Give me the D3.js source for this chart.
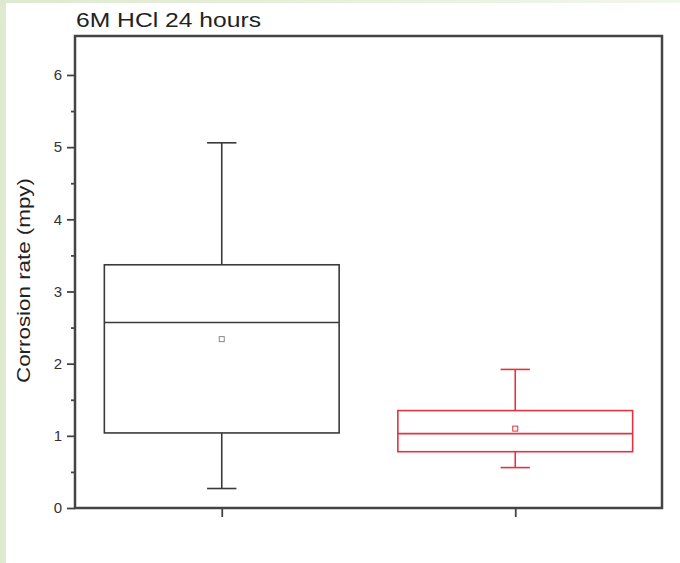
<!DOCTYPE html>
<html><head><meta charset="utf-8">
<script src="https://cdn.jsdelivr.net/npm/d3@7"></script>
<style>html,body{margin:0;padding:0;background:#fff;}svg{display:block;}</style>
</head><body>
<script>
const categories = ["A", "B"];
const whiskerLow = [0.27, 0.56];
const q1 = [1.04, 0.78];
const median = [2.57, 1.03];
const q3 = [3.37, 1.35];
const whiskerHigh = [5.06, 1.92];
const mean = [2.34, 1.10];
const colors = ["#3a3a3a", "#e0353f"];
const yTicks = [0, 1, 2, 3, 4, 5, 6];
const yMinorTicks = [0.5, 1.5, 2.5, 3.5, 4.5, 5.5];
const title = "6M HCl 24 hours";
const yLabel = "Corrosion rate (mpy)";

const W = 680, H = 563;
const m = {left: 75, right: 18, top: 36, bottom: 55};
const svg = d3.select("body").append("svg").attr("width", W).attr("height", H);

svg.append("rect").attr("x", 0).attr("y", 0).attr("width", W).attr("height", H).attr("fill", "#ffffff");
const g0 = svg.append("defs").append("linearGradient").attr("id", "topg");
g0.append("stop").attr("offset", "0%").attr("stop-color", "#dfe9cf");
g0.append("stop").attr("offset", "100%").attr("stop-color", "#f1f6ea");
svg.append("rect").attr("x", 0).attr("y", 0).attr("width", W).attr("height", 3).attr("fill", "url(#topg)");
svg.append("rect").attr("x", 0).attr("y", 0).attr("width", 6).attr("height", H).attr("fill", "#dfe9cf");

const x = d3.scalePoint().domain(categories).range([m.left, W - m.right]).padding(0.5);
const y = d3.scaleLinear().domain([0, 6.54]).range([H - m.bottom, m.top]);
const boxW = x.step() * 0.8;
const capHalf = boxW * 0.0625;

const yAxis = svg.append("g").attr("transform", `translate(${m.left},0)`)
  .call(d3.axisLeft(y).tickValues(yTicks).tickFormat(d3.format("d")).tickSize(8).tickPadding(5));
yAxis.select(".domain").remove();
yAxis.selectAll("line").attr("stroke", "#444").attr("stroke-width", 1.8);
yAxis.selectAll("text").attr("font-family", "Liberation Sans, Arial, sans-serif").attr("font-size", 15).attr("fill", "#333");
const yMinor = svg.append("g").attr("transform", `translate(${m.left},0)`)
  .call(d3.axisLeft(y).tickValues(yMinorTicks).tickFormat("").tickSize(4));
yMinor.select(".domain").remove();
yMinor.selectAll("line").attr("stroke", "#444").attr("stroke-width", 1.8);

const xAxis = svg.append("g").attr("transform", `translate(0,${H - m.bottom})`)
  .call(d3.axisBottom(x).tickSize(9).tickFormat(""));
xAxis.select(".domain").remove();
xAxis.selectAll("line").attr("stroke", "#444").attr("stroke-width", 1.8);

categories.forEach((c, i) => {
  const cx = x(c), col = colors[i];
  const g = svg.append("g").attr("stroke", col).attr("fill", "none").attr("stroke-width", 1.6);
  g.append("line").attr("x1", cx).attr("x2", cx).attr("y1", y(q3[i])).attr("y2", y(whiskerHigh[i]));
  g.append("line").attr("x1", cx).attr("x2", cx).attr("y1", y(q1[i])).attr("y2", y(whiskerLow[i]));
  g.append("line").attr("x1", cx - capHalf).attr("x2", cx + capHalf).attr("y1", y(whiskerHigh[i])).attr("y2", y(whiskerHigh[i]));
  g.append("line").attr("x1", cx - capHalf).attr("x2", cx + capHalf).attr("y1", y(whiskerLow[i])).attr("y2", y(whiskerLow[i]));
  g.append("rect").attr("x", cx - boxW / 2).attr("width", boxW)
    .attr("y", y(q3[i])).attr("height", y(q1[i]) - y(q3[i]));
  g.append("line").attr("x1", cx - boxW / 2).attr("x2", cx + boxW / 2).attr("y1", y(median[i])).attr("y2", y(median[i]));
  svg.append("rect").attr("x", cx - 2.5).attr("y", y(mean[i]) - 2.5).attr("width", 5).attr("height", 5)
    .attr("fill", "none").attr("stroke", i === 0 ? "#888" : col).attr("stroke-width", 1);
});

svg.append("rect").attr("x", m.left).attr("y", m.top).attr("width", W - m.left - m.right).attr("height", H - m.top - m.bottom)
  .attr("fill", "none").attr("stroke", "#444").attr("stroke-width", 2.5);

svg.append("text").attr("x", 76).attr("y", 27).text(title)
  .attr("font-family", "Liberation Sans, Arial, sans-serif").attr("font-size", 21).attr("fill", "#222")
  .attr("textLength", 185).attr("lengthAdjust", "spacingAndGlyphs");

svg.append("text").attr("transform", `translate(30,${(178 + 383) / 2}) rotate(-90)`)
  .attr("text-anchor", "middle").text(yLabel)
  .attr("font-family", "Liberation Sans, Arial, sans-serif").attr("font-size", 19).attr("fill", "#222")
  .attr("textLength", 205).attr("lengthAdjust", "spacingAndGlyphs");
</script>
</body></html>
